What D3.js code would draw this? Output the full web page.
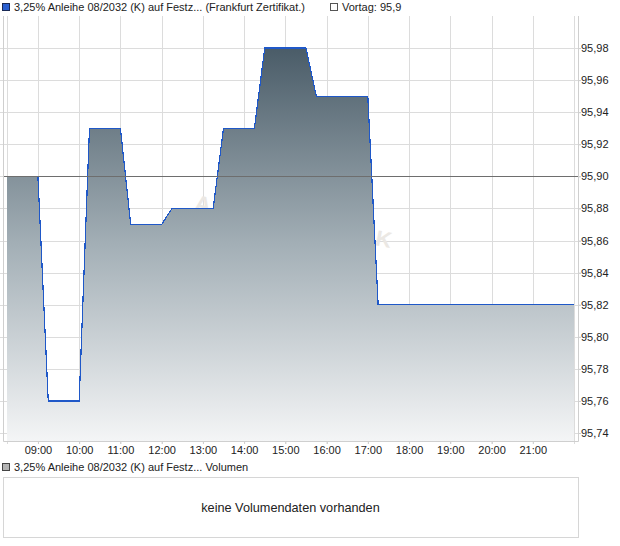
<!DOCTYPE html>
<html><head><meta charset="utf-8">
<script src="https://cdn.jsdelivr.net/npm/d3@7"></script>
<style>body{margin:0;background:#fff} svg{display:block;font-family:Arial,"Liberation Sans",sans-serif}</style>
</head><body><svg id="c" width="620" height="546"></svg>
<script>
const times = ["08:15","09:00","09:15","10:00","10:15","11:00","11:15","12:00","12:15","13:15","13:30","14:15","14:30","15:30","15:45","17:00","17:15","22:00"];
const prices = [95.90,95.90,95.76,95.76,95.93,95.93,95.87,95.87,95.88,95.88,95.93,95.93,95.98,95.98,95.95,95.95,95.82,95.82];
const previousClose = 95.90;
const hourTicks = ["09:00","10:00","11:00","12:00","13:00","14:00","15:00","16:00","17:00","18:00","19:00","20:00","21:00"];
const priceTicks = [95.74,95.76,95.78,95.80,95.82,95.84,95.86,95.88,95.90,95.92,95.94,95.96,95.98];
const timeDomain = ["08:15","22:00"];
const priceDomain = [95.735, 96.0];
const seriesName = "3,25% Anleihe 08/2032 (K) auf Festz... (Frankfurt Zertifikat.)";
const prevLabel = "Vortag: 95,9";
const volumeLegend = "3,25% Anleihe 08/2032 (K) auf Festz... Volumen";
const volumeEmpty = "keine Volumendaten vorhanden";
const watermark = "AKTIENCHECK";

const parse = d3.timeParse("%H:%M");
const data = times.map((t,i)=>({t:parse(t), v:prices[i]}));
const de = d3.formatLocale({decimal:",",thousands:".",grouping:[3],currency:["","€"]});
const fmt = de.format(".2f");

const L=3, R=578, T=16, B=441;
const svg = d3.select("#c");
const x = d3.scaleTime().domain(timeDomain.map(parse)).range([7,574]);
const y = d3.scaleLinear().domain(priceDomain).range([B,T]);

const defs = svg.append("defs");
const g = defs.append("linearGradient").attr("id","fillg").attr("gradientUnits","userSpaceOnUse")
  .attr("x1",0).attr("x2",0).attr("y1",y(95.98)).attr("y2",B);
g.append("stop").attr("offset",0).attr("stop-color","#4a5c68");
g.append("stop").attr("offset",0.5).attr("stop-color","#a3afb6");
g.append("stop").attr("offset",1).attr("stop-color","#f4f5f6");

svg.append("g").attr("transform",`translate(${L-3},0)`)
  .call(d3.axisRight(y).tickValues(priceTicks).tickSize(R-L+6).tickFormat(""))
  .call(s=>{s.select(".domain").remove(); s.selectAll("line").attr("stroke","#dcdcdc").attr("shape-rendering","crispEdges");});
const vgrid = [parse(timeDomain[0]), ...hourTicks.map(parse), parse(timeDomain[1])];
svg.append("g").attr("transform",`translate(0,${B+3})`)
  .call(d3.axisBottom(x).tickValues(vgrid).tickSize(-(B-T+3)).tickFormat(""))
  .call(s=>{s.select(".domain").remove(); s.selectAll("line").attr("stroke","#dcdcdc").attr("shape-rendering","crispEdges");});

svg.append("text").attr("transform","translate(292,229) rotate(11)")
  .attr("text-anchor","middle").attr("font-size",22).attr("font-weight","bold")
  .attr("fill","#ebe8e4").attr("textLength",200).attr("lengthAdjust","spacing").text(watermark);

svg.append("path").datum(data).attr("fill","url(#fillg)")
  .attr("d", d3.area().x(d=>x(d.t)).y0(B).y1(d=>y(d.v)));
svg.append("path").datum(data).attr("fill","none").attr("stroke","#1f58c8").attr("stroke-width",1.2)
  .attr("shape-rendering","crispEdges")
  .attr("d", d3.line().x(d=>x(d.t)).y(d=>y(d.v)));

svg.append("line").attr("x1",L).attr("x2",R).attr("y1",Math.round(y(previousClose))+0.5).attr("y2",Math.round(y(previousClose))+0.5)
  .attr("stroke","#6e6e6e").attr("stroke-width",1);

const bc="#cfcfcf";
svg.append("path").attr("d",`M${L+0.5},${T}V${B+0.5}H${R+0.5}V${T}`).attr("fill","none").attr("stroke",bc);

svg.append("g").attr("transform",`translate(${R},0)`)
  .call(d3.axisRight(y).tickValues(priceTicks).tickSize(3).tickPadding(0).tickFormat(fmt))
  .call(s=>{s.select(".domain").remove(); s.selectAll("line").attr("stroke","#cfcfcf");
    s.selectAll("text").attr("font-size",11).attr("font-family",'Arial,"Liberation Sans",sans-serif').attr("fill","#222");});
svg.append("g").attr("transform",`translate(0,${B})`)
  .call(d3.axisBottom(x).tickValues(hourTicks.map(parse)).tickSize(3).tickPadding(2).tickFormat(d3.timeFormat("%H:%M")))
  .call(s=>{s.select(".domain").remove(); s.selectAll("line").attr("stroke","#cfcfcf");
    s.selectAll("text").attr("font-size",11).attr("font-family",'Arial,"Liberation Sans",sans-serif').attr("fill","#222");});

svg.append("rect").attr("x",2.5).attr("y",3.5).attr("width",7).attr("height",7).attr("fill","#2a5fd0").attr("stroke","#1a2a55");
svg.append("text").attr("x",14).attr("y",11).attr("font-size",11).attr("fill","#222").text(seriesName);
svg.append("rect").attr("x",330.5).attr("y",3.5).attr("width",7).attr("height",7).attr("fill","#fff").attr("stroke","#555");
svg.append("text").attr("x",342).attr("y",11).attr("font-size",11).attr("fill","#222").text(prevLabel);

svg.append("rect").attr("x",2.5).attr("y",463.5).attr("width",7).attr("height",7).attr("fill","#b4b4b4").attr("stroke","#444");
svg.append("text").attr("x",14).attr("y",471).attr("font-size",11).attr("fill","#222").text(volumeLegend);
svg.append("rect").attr("x",L+0.5).attr("y",477.5).attr("width",R-L).attr("height",60).attr("fill","#fff").attr("stroke","#d6d6d6");
svg.append("text").attr("x",(L+R)/2).attr("y",512).attr("text-anchor","middle").attr("font-size",12.7).attr("fill","#222").text(volumeEmpty);
</script></body></html>
